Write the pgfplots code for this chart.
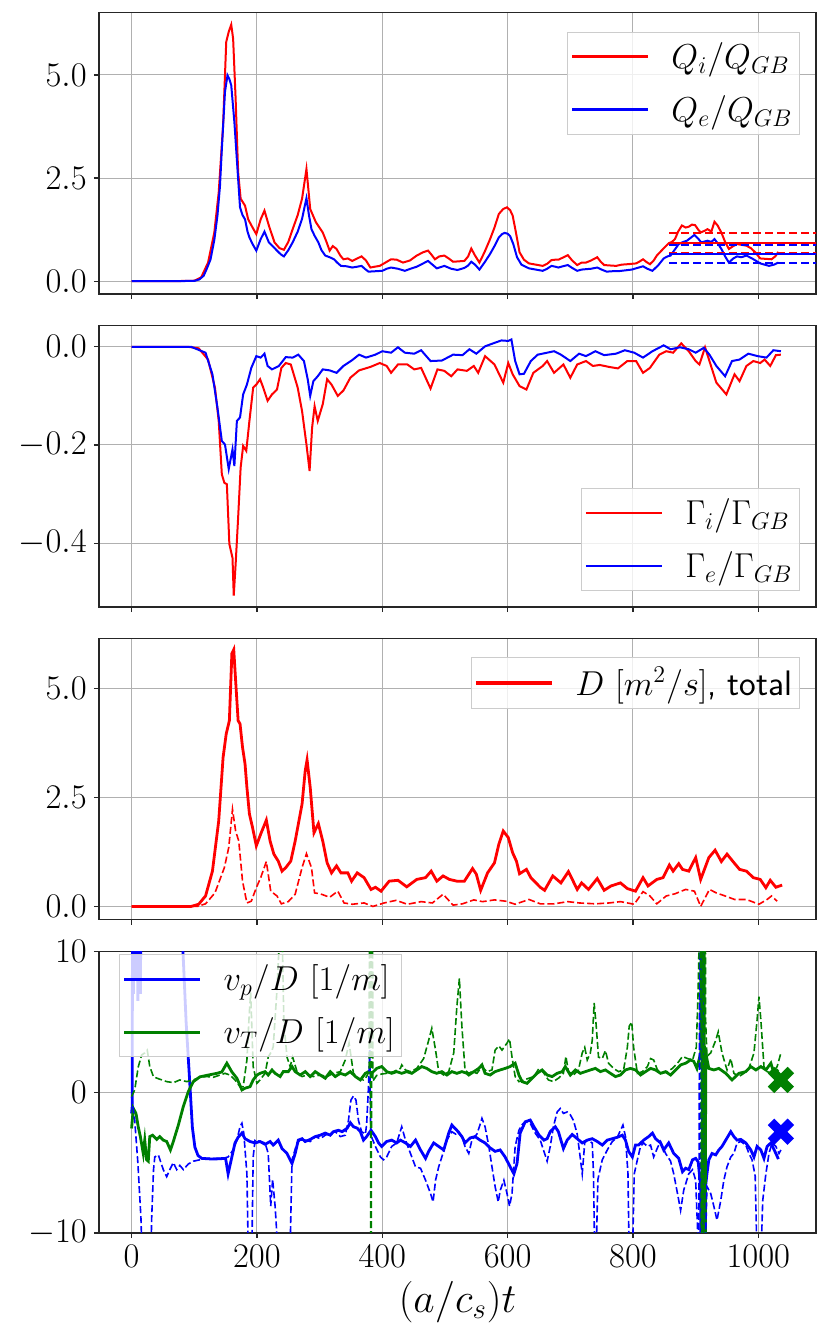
\documentclass[border=0pt]{standalone}
\usepackage{pgfplots}
\pgfplotsset{compat=1.18}
\definecolor{mgreen}{HTML}{008000}
\definecolor{gridc}{HTML}{B0B0B0}
\pgfplotsset{
  panel/.style={
    scale only axis, width=358.5pt, height=140.6pt,
    xmin=-52, xmax=1092,
    xtick={0,200,400,600,800,1000},
    xticklabel style={/pgf/number format/1000 sep={}},
    grid=major, major grid style={gridc, line width=0.5pt},
    tick pos=left, tick align=outside, major tick length=2.6pt,
    tick style={black!85, line width=0.6pt},
    axis line style={black!85, line width=0.6pt},
    tick label style={font=\fontsize{16}{19}\selectfont},
    legend cell align=left,
    legend image code/.code={\draw[#1, line width=\pgfkeysvalueof{/pgfplots/leglw}] (0pt,0pt) -- (38pt,0pt);},
    legend style={draw=black!20, line width=0.5pt, fill=white, fill opacity=0.8, text opacity=1, draw opacity=1,
      font=\fontsize{17.7}{21}\selectfont, inner xsep=1.5pt, inner ysep=3pt, row sep=8pt,
      /tikz/every odd column/.append style={column sep=9pt}},
  },
  leglw/.initial=1.3pt,
  onedec/.style={yticklabel style={/pgf/number format/.cd, fixed, fixed zerofill, precision=1}},
}
\begin{document}
\begin{tikzpicture}
% ---------------- Panel 1 ----------------
\begin{axis}[panel, onedec, at={(49.5pt,-6.35pt)}, anchor=north west,
  ymin=-0.31, ymax=6.51, ytick={0,2.5,5}, xticklabels={},
  legend style={at={(1,1)}, anchor=north east, xshift=-8pt, yshift=-9.5pt}]
\addplot[red, line width=1pt] coordinates {
(0,0) (60,0) (90,0.005) (100,0.01) (111,0.09) (122,0.45) (132,1.18) (139,2.15) (146,3.78) (151,5.8) (155,6.05) (159,6.22) (162,5.88) (166,4.42) (170,2.64) (174,2.0) (181,1.83) (186,1.5) (193,1.3) (199,1.14) (206,1.5) (212,1.71) (219,1.35) (228,0.94) (236,0.8) (243,0.76) (250,0.95) (257,1.26) (265,1.6) (272,2.0) (279,2.72) (285,1.75) (294,1.43) (305,1.18) (311,0.95) (316,0.74) (321,0.85) (327,0.78) (333,0.62) (338,0.53) (345,0.55) (352,0.49) (360,0.55) (367,0.6) (374,0.5) (381,0.33) (388,0.35) (396,0.37) (405,0.45) (414,0.53) (423,0.52) (433,0.45) (444,0.5) (455,0.62) (465,0.7) (473,0.74) (478,0.65) (484,0.53) (491,0.6) (499,0.62) (506,0.55) (513,0.47) (522,0.48) (531,0.49) (537,0.6) (542,0.79) (548,0.62) (555,0.45) (563,0.7) (572,1.02) (579,1.3) (586,1.63) (593,1.75) (599,1.79) (604,1.72) (608,1.59) (613,1.2) (619,0.7) (626,0.52) (634,0.43) (645,0.4) (656,0.37) (663,0.42) (670,0.51) (676,0.52) (681,0.52) (688,0.57) (696,0.63) (703,0.5) (711,0.39) (718,0.45) (725,0.45) (733,0.5) (743,0.58) (748,0.48) (754,0.39) (763,0.38) (773,0.37) (782,0.4) (791,0.41) (798,0.42) (805,0.43) (811,0.48) (816,0.53) (821,0.47) (827,0.41) (833,0.5) (838,0.62) (848,0.78) (857,0.92) (862,0.95) (867,1.02) (872,1.2) (878,1.35) (884,1.3) (889,1.32) (894,1.37) (899,1.36) (904,1.25) (908,1.18) (914,1.22) (919,1.26) (925,1.2) (930,1.44) (935,1.35) (941,1.18) (947,0.95) (953,0.78) (960,0.85) (966,0.9) (973,0.88) (981,0.86) (988,0.8) (995,0.7) (1003,0.55) (1012,0.54) (1021,0.53) (1027,0.6) (1032,0.71)
};
\addlegendentry{$Q_i/Q_{GB}$}
\addplot[blue, line width=1pt] coordinates {
(0,0) (60,0) (100,0.005) (108,0.04) (115,0.13) (120,0.3) (126,0.53) (132,1.0) (137,1.59) (141,2.3) (144,3.2) (149,4.59) (153,4.99) (156,4.9) (159,4.75) (164,3.86) (170,2.48) (173,1.79) (177,1.6) (181,1.5) (185,1.2) (188,1.06) (193,0.9) (199,0.74) (206,1.02) (212,1.2) (219,0.94) (225,0.85) (232,0.74) (238,0.65) (243,0.6) (250,0.75) (257,0.94) (265,1.2) (272,1.51) (276,1.8) (279,2.01) (283,1.6) (287,1.26) (292,1.1) (298,0.94) (303,0.75) (309,0.62) (316,0.58) (323,0.53) (328,0.45) (334,0.37) (343,0.36) (352,0.33) (360,0.35) (367,0.37) (372,0.3) (378,0.23) (389,0.24) (400,0.25) (407,0.3) (414,0.33) (425,0.3) (436,0.25) (445,0.3) (455,0.35) (464,0.42) (473,0.49) (480,0.4) (487,0.31) (493,0.34) (499,0.37) (510,0.3) (520,0.27) (531,0.32) (537,0.38) (542,0.47) (548,0.4) (555,0.28) (563,0.45) (572,0.66) (579,0.85) (586,1.06) (591,1.14) (595,1.17) (600,1.15) (604,1.09) (609,0.9) (615,0.58) (622,0.4) (634,0.31) (645,0.28) (656,0.25) (663,0.3) (670,0.37) (676,0.35) (681,0.33) (688,0.36) (696,0.39) (703,0.32) (711,0.25) (718,0.28) (725,0.29) (733,0.3) (743,0.33) (750,0.28) (758,0.23) (767,0.24) (776,0.24) (787,0.26) (798,0.28) (807,0.32) (816,0.36) (823,0.3) (831,0.25) (840,0.38) (849,0.55) (855,0.6) (860,0.62) (866,0.75) (873,0.9) (880,0.95) (886,0.98) (892,1.05) (898,1.12) (904,1.03) (909,0.94) (914,0.96) (919,0.98) (925,0.95) (930,1.02) (936,0.9) (941,0.78) (947,0.6) (953,0.45) (960,0.55) (966,0.6) (973,0.58) (981,0.62) (990,0.55) (1003,0.43) (1010,0.4) (1017,0.37) (1025,0.4) (1032,0.45)
};
\addlegendentry{$Q_e/Q_{GB}$}
\addplot[red, line width=1pt, forget plot] coordinates {(858,0.92) (1100,0.92)};
\addplot[red, line width=1pt, dash pattern=on 4pt off 2pt, forget plot] coordinates {(858,1.17) (1100,1.17)};
\addplot[red, line width=1pt, dash pattern=on 4pt off 2pt, forget plot] coordinates {(858,0.68) (1100,0.68)};
\addplot[blue, line width=1pt, forget plot] coordinates {(858,0.66) (1100,0.66)};
\addplot[blue, line width=1pt, dash pattern=on 4pt off 2pt, forget plot] coordinates {(858,0.87) (1100,0.87)};
\addplot[blue, line width=1pt, dash pattern=on 4pt off 2pt, forget plot] coordinates {(858,0.45) (1100,0.45)};
\end{axis}
% ---------------- Panel 2 ----------------
\begin{axis}[panel, onedec, at={(49.5pt,-162.85pt)}, anchor=north west,
  ymin=-0.530, ymax=0.043, ytick={-0.4,-0.2,0}, xticklabels={},
  legend style={at={(1,0)}, anchor=south east, xshift=-8pt, yshift=8pt}]
\addplot[red, line width=1pt] coordinates {
(0,0) (90,0) (107,-0.003) (122,-0.026) (133,-0.083) (139,-0.151) (144,-0.26) (148,-0.277) (152,-0.28) (156,-0.402) (161,-0.43) (163,-0.507) (166,-0.443) (170,-0.348) (174,-0.246) (178,-0.202) (183,-0.212) (188,-0.151) (194,-0.083) (199,-0.077) (205,-0.066) (210,-0.083) (217,-0.11) (224,-0.097) (232,-0.087) (239,-0.043) (246,-0.033) (254,-0.036) (265,-0.083) (272,-0.131) (279,-0.199) (284,-0.253) (288,-0.165) (292,-0.121) (297,-0.151) (305,-0.117) (312,-0.066) (319,-0.077) (329,-0.1) (338,-0.089) (349,-0.063) (363,-0.048) (381,-0.041) (396,-0.033) (407,-0.039) (414,-0.053) (425,-0.036) (440,-0.036) (451,-0.046) (462,-0.043) (477,-0.085) (488,-0.046) (499,-0.049) (510,-0.06) (520,-0.046) (535,-0.049) (546,-0.039) (553,-0.053) (564,-0.019) (579,-0.036) (593,-0.073) (601,-0.033) (608,-0.056) (619,-0.08) (630,-0.087) (641,-0.053) (656,-0.039) (663,-0.029) (674,-0.053) (689,-0.036) (700,-0.063) (711,-0.036) (725,-0.029) (736,-0.039) (747,-0.037) (762,-0.041) (776,-0.044) (791,-0.029) (805,-0.029) (816,-0.053) (827,-0.043) (842,-0.016) (853,-0.009) (864,-0.012) (877,0.007) (889,-0.009) (900,-0.029) (906,-0.036) (915,-0.001) (922,-0.029) (933,-0.073) (949,-0.097) (962,-0.056) (970,-0.07) (981,-0.039) (992,-0.029) (1003,-0.033) (1010,-0.026) (1019,-0.039) (1028,-0.017) (1036,-0.016)
};
\addlegendentry{$\Gamma_i/\Gamma_{GB}$}
\addplot[blue, line width=1pt] coordinates {
(0,0) (95,0) (118,-0.012) (129,-0.056) (137,-0.124) (144,-0.192) (149,-0.199) (155,-0.249) (161,-0.209) (164,-0.243) (168,-0.151) (173,-0.144) (178,-0.097) (184,-0.077) (191,-0.043) (199,-0.019) (206,-0.022) (212,-0.014) (217,-0.039) (224,-0.046) (235,-0.039) (246,-0.021) (257,-0.022) (266,-0.016) (275,-0.029) (281,-0.066) (285,-0.1) (290,-0.07) (297,-0.06) (305,-0.046) (316,-0.048) (327,-0.053) (338,-0.039) (351,-0.028) (363,-0.016) (374,-0.022) (389,-0.016) (400,-0.009) (414,-0.012) (425,-0.001) (436,-0.012) (451,-0.014) (462,-0.007) (477,-0.029) (495,-0.028) (513,-0.016) (528,-0.017) (539,-0.005) (550,-0.014) (564,0.001) (579,0.008) (590,0.013) (601,0.012) (606,0.015) (612,-0.029) (619,-0.056) (626,-0.055) (637,-0.029) (648,-0.016) (663,-0.012) (674,-0.009) (685,-0.016) (700,-0.029) (714,-0.014) (725,-0.019) (740,-0.009) (754,-0.017) (773,-0.014) (787,-0.007) (802,-0.012) (816,-0.022) (831,-0.009) (849,0.003) (860,-0.005) (875,-0.001) (889,-0.005) (900,-0.012) (913,-0.002) (922,-0.016) (933,-0.039) (947,-0.06) (958,-0.029) (970,-0.026) (984,-0.014) (999,-0.019) (1013,-0.022) (1024,-0.007) (1036,-0.009)
};
\addlegendentry{$\Gamma_e/\Gamma_{GB}$}
\end{axis}
% ---------------- Panel 3 ----------------
\begin{axis}[panel, onedec, leglw=1.6pt, at={(49.5pt,-319.15pt)}, anchor=north west,
  ymin=-0.30, ymax=6.15, ytick={0,2.5,5}, xticklabels={},
  legend style={at={(1,1)}, anchor=north east, xshift=-8pt, yshift=-9.3pt}]
\addplot[red, line width=1.4pt] coordinates {
(0,0) (95,0) (107,0.05) (118,0.24) (129,0.81) (139,1.96) (146,3.42) (151,3.96) (156,4.26) (160,5.8) (163,5.89) (166,5.18) (170,4.26) (173,4.19) (177,3.65) (181,3.27) (184,2.73) (188,2.12) (193,1.81) (199,1.39) (206,1.66) (215,1.98) (221,1.5) (227,1.2) (234,1.04) (240,0.81) (246,0.89) (254,1.04) (261,1.5) (272,2.35) (277,3.11) (280,3.36) (285,2.73) (291,1.69) (298,1.9) (305,1.5) (312,1.0) (319,0.77) (327,0.93) (334,0.77) (345,0.77) (351,0.58) (360,0.77) (371,0.66) (382,0.39) (389,0.44) (398,0.35) (411,0.58) (425,0.6) (439,0.45) (455,0.62) (469,0.66) (478,0.81) (487,0.58) (497,0.7) (507,0.62) (519,0.58) (531,0.58) (544,0.87) (550,0.74) (557,0.37) (568,0.77) (579,1.0) (586,1.43) (593,1.73) (601,1.58) (608,1.23) (614,1.04) (619,0.75) (630,0.85) (637,0.66) (652,0.44) (659,0.37) (672,0.7) (685,0.54) (697,0.8) (711,0.39) (718,0.54) (729,0.39) (743,0.64) (754,0.37) (765,0.47) (780,0.54) (791,0.41) (804,0.35) (816,0.66) (824,0.47) (838,0.62) (848,0.66) (858,0.95) (864,0.81) (873,0.98) (879,0.85) (889,0.81) (900,1.12) (908,0.62) (921,1.12) (931,1.29) (941,1.03) (950,1.2) (959,1.04) (970,0.85) (981,0.81) (992,0.66) (1003,0.62) (1012,0.43) (1019,0.6) (1028,0.44) (1038,0.49)
};
\addlegendentry{$D$ $[m^2/s]$\textsf{, total}}
\addplot[red, line width=0.8pt, dash pattern=on 3.5pt off 1.5pt, forget plot] coordinates {
(0,0) (105,0) (118,0.06) (133,0.31) (148,0.89) (155,1.35) (161,2.23) (166,1.73) (171,1.5) (177,0.58) (184,0.08) (191,0.12) (199,0.43) (206,0.66) (215,1.03) (222,0.35) (232,0.24) (239,0.06) (250,0.11) (261,0.28) (272,0.89) (279,1.21) (287,0.89) (292,0.31) (301,0.29) (316,0.21) (329,0.35) (339,0.08) (352,0.05) (371,0.08) (385,0.0) (403,0.08) (422,0.14) (440,0.05) (462,0.11) (480,0.08) (497,0.28) (513,0.03) (528,0.06) (546,0.15) (560,0.11) (579,0.15) (597,0.12) (612,0.05) (634,0.16) (652,0.06) (674,0.06) (696,0.11) (714,0.08) (740,0.06) (762,0.08) (780,0.11) (802,0.05) (816,0.34) (827,0.24) (838,0.06) (853,0.24) (867,0.29) (884,0.39) (898,0.35) (908,0.0) (922,0.39) (933,0.31) (947,0.24) (962,0.16) (981,0.16) (1001,0.05) (1014,0.16) (1021,0.24) (1030,0.12)
};
\end{axis}
% ---------------- Panel 4 ----------------
\begin{axis}[panel, leglw=1.6pt, at={(49.5pt,-475.85pt)}, anchor=north west,
  ymin=-10, ymax=10, ytick={-10,0,10},
  xlabel={$(a/c_s)t$}, xlabel style={font=\fontsize{22}{26}\selectfont},
  legend style={at={(0,1)}, anchor=north west, xshift=10pt, yshift=-1.3pt, font=\fontsize{18.4}{22}\selectfont}]
\addplot[blue, line width=1.4pt] coordinates {
(0,-1.5) (1,-1.0) (1.5,15) (3,7) (4.5,15) (6,8) (8,15) (10,6.5) (12,15) (14,7) (16,20) (20,25) (40,30) (70,30) (80,15) (82,10) (87,5) (92,1.3) (97,-2.5) (101,-3.9) (106,-4.5) (112,-4.7) (130,-4.75) (150,-4.7) (154,-5.8) (160,-4.6) (165,-3.6) (170,-3.2) (176,-2.9) (181,-3.3) (189,-3.5) (197,-3.6) (205,-3.5) (213,-3.7) (221,-3.5) (226,-3.75) (234,-3.4) (240,-4.0) (248,-4.35) (256,-5.06) (261,-4.35) (266,-3.4) (272,-3.3) (277,-3.5) (285,-3.35) (293,-3.15) (301,-3.05) (309,-2.9) (317,-3.05) (322,-2.8) (330,-2.7) (336,-2.8) (344,-2.55) (349,-2.16) (354,-2.45) (360,-2.55) (365,-2.8) (370,-3.4) (375,-3.15) (382,-2.7) (389,-3.15) (394,-3.6) (399,-3.85) (407,-3.5) (415,-3.4) (423,-3.6) (429,-3.4) (437,-3.6) (445,-3.85) (453,-3.4) (461,-4.1) (469,-4.7) (474,-4.2) (482,-3.6) (490,-3.85) (498,-4.1) (506,-2.9) (511,-2.33) (519,-2.7) (527,-3.15) (532,-3.6) (540,-3.25) (548,-3.15) (556,-3.4) (564,-3.6) (572,-3.95) (580,-4.2) (588,-4.1) (596,-4.6) (604,-5.3) (610,-5.8) (615,-5.06) (620,-2.9) (628,-2.1) (636,-1.97) (642,-2.45) (650,-3.04) (658,-3.4) (663,-3.3) (668,-2.8) (676,-2.45) (681,-2.8) (689,-4.0) (695,-3.4) (703,-3.0) (711,-3.3) (719,-3.6) (727,-3.4) (735,-3.3) (743,-3.5) (751,-3.75) (759,-3.4) (767,-3.3) (775,-3.2) (783,-3.05) (788,-3.4) (793,-4.2) (799,-4.6) (804,-3.75) (809,-3.75) (817,-3.4) (825,-3.15) (831,-2.9) (836,-3.3) (844,-3.6) (849,-4.1) (857,-3.6) (865,-4.35) (873,-4.7) (879,-5.65) (884,-5.4) (889,-5.5) (895,-4.8) (900,-4.7) (904,-4.95) (908,-6.7) (910,-30) (911.5,-8) (913,-25) (915,-7) (918,-5.8) (921,-4.8) (926,-4.35) (932,-4.45) (937,-4.1) (942,-3.85) (948,-3.4) (956,-2.8) (961,-3.15) (966,-3.4) (972,-3.35) (980,-3.6) (988,-4.1) (993,-4.6) (998,-3.85) (1004,-4.1) (1009,-4.7) (1014,-3.85) (1020,-3.6) (1028,-4.35) (1032,-4.75)
};
\addlegendentry{$v_p/D$ $[1/m]$}
\addplot[mgreen, line width=1.4pt] coordinates {
(0,-2.57) (2.7,-1.14) (7,-1.5) (10.6,-2.45) (14,-3.15) (18.6,-4.35) (21,-3.4) (24,-4.8) (26.6,-4.9) (29,-3.15) (33.5,-3.05) (40,-3.35) (45,-3.15) (50.6,-3.4) (56,-3.5) (62,-4.1) (66.6,-3.5) (74.6,-2.33) (82.6,-1.0) (90.5,0.05) (98.5,0.76) (109,1.1) (122.5,1.23) (136,1.35) (144,1.45) (152,2.07) (160,1.45) (168,1.0) (176,0.17) (181,0.29) (189,0.4) (194,0.88) (200,1.23) (205,1.35) (213,1.47) (218,1.23) (224,1.59) (229,1.35) (237,1.12) (242,1.47) (250,1.47) (256,1.83) (261,1.47) (269,1.23) (277,1.47) (285,1.12) (293,1.47) (301,1.23) (309,1.0) (317,1.47) (325,1.12) (333,1.35) (341,1.23) (349,1.47) (357,1.12) (365,0.88) (373,1.35) (378,1.47) (383,1.35) (391,1.7) (399,1.83) (407,1.47) (415,1.35) (423,1.47) (431,1.35) (439,1.47) (447,1.35) (455,1.59) (463,1.83) (471,1.7) (479,1.47) (487,1.35) (495,1.47) (503,1.23) (511,1.47) (519,1.35) (527,1.47) (535,1.35) (538,1.23) (546,1.47) (554,1.7) (559,1.95) (564,1.35) (572,1.23) (580,1.47) (588,1.59) (596,1.7) (604,1.83) (612,2.07) (618,1.23) (623,0.76) (631,0.64) (639,1.0) (647,1.35) (655,1.59) (663,1.23) (671,1.12) (679,1.35) (687,1.47) (692,1.83) (700,1.23) (708,1.59) (716,1.35) (724,1.47) (732,1.59) (740,1.7) (748,1.47) (756,1.59) (764,1.35) (772,1.12) (780,1.23) (788,1.59) (796,1.7) (804,1.59) (812,1.23) (820,1.47) (828,1.7) (836,1.59) (844,1.35) (852,1.47) (860,1.23) (868,1.59) (876,1.95) (884,2.07) (892,2.3) (897,2.2) (902,1.7) (908,2.8) (910,40) (911.5,-40) (913,40) (914.5,-40) (916,2.8) (921,1.7) (929,1.59) (937,1.7) (948,1.35) (958,0.88) (969,1.35) (980,1.47) (988,1.83) (996,1.59) (1004,1.83) (1012,1.59) (1020,2.07) (1025,1.35) (1032,1.6)
};
\addlegendentry{$v_T/D$ $[1/m]$}
\addplot[blue, line width=0.8pt, dash pattern=on 3.5pt off 1.5pt, forget plot] coordinates {
(0,-0.3) (5,-2) (10,-5) (15,-9) (18,-14) (25,-30) (30,-14) (32,-9) (35,-5.5) (37,-4.6) (42.6,-4.45) (50.6,-5.5) (56,-6.0) (61,-5.5) (66.6,-5.0) (72,-5.5) (77,-5.2) (82.6,-5.5) (90.5,-5.1) (98.5,-4.9) (109,-4.8) (120,-4.7) (133,-4.7) (146.5,-4.7) (154,-4.6) (162,-4.1) (168,-3.4) (173,-2.45) (176,-2.2) (179,-2.9) (184,-5.8) (186,-11) (189,-25) (192,-11) (194,-4.6) (197,-3.4) (205,-3.5) (213,-3.6) (218,-4.35) (222,-8.1) (225,-6.2) (229,-8.1) (233,-11) (240,-30) (250,-30) (253,-11) (256,-4.8) (264,-3.6) (269,-3.4) (277,-3.4) (285,-3.5) (293,-3.15) (301,-3.3) (309,-3.05) (317,-2.9) (325,-2.8) (333,-3.15) (341,-3.05) (346,-2.0) (350,-0.55) (354,-0.26) (358,-0.55) (362,-2.0) (367,-2.8) (373,-2.97) (375,-2.3) (378,0.4) (380,3) (381.5,-3) (384,-3.3) (389,-3.85) (397,-4.6) (402,-4.8) (407,-4.6) (415,-3.85) (423,-3.6) (431,-2.45) (437,-3.4) (445,-4.35) (453,-5.3) (461,-5.4) (469,-6.25) (477,-7.2) (481,-7.8) (485,-6.25) (490,-5.3) (495,-4.6) (503,-3.4) (511,-2.8) (517,-2.97) (522,-2.8) (527,-3.15) (532,-3.85) (538,-4.35) (543,-3.4) (551,-2.97) (556,-2.3) (559,-1.85) (564,-2.45) (570,-3.85) (575,-5.3) (580,-6.7) (585,-7.8) (588,-7.0) (594,-6.25) (599,-7.2) (603,-8.1) (607,-7.2) (612,-3.85) (618,-2.7) (623,-2.3) (628,-2.1) (636,-2.2) (644,-2.9) (652,-3.4) (659,-4.35) (663,-4.9) (668,-3.85) (673,-2.45) (679,-1.4) (684,-1.15) (689,-1.5) (695,-1.4) (700,-1.6) (705,-2.0) (711,-2.97) (715,-4.35) (719,-5.8) (723,-3.6) (727,-3.4) (735,-3.6) (737,-5.8) (739,-12) (741,-12) (744,-6.2) (751,-4.8) (759,-4.1) (767,-3.5) (775,-3.2) (780,-2.7) (784,-2.33) (788,-3.15) (792,-5.8) (794,-12) (799,-12) (802,-5.8) (807,-4.8) (812,-3.85) (817,-3.6) (823,-3.85) (828,-3.75) (833,-4.6) (839,-3.95) (844,-3.5) (852,-4.35) (860,-4.9) (865,-5.8) (871,-7.2) (876,-8.4) (881,-6.95) (889,-5.8) (895,-5.5) (900,-6.25) (905,-12) (907,20) (909,-20) (911,20) (913,-20) (915,-12) (918,-6.7) (924,-7.2) (929,-8.1) (934,-9.1) (940,-7.7) (945,-6.25) (950,-5.3) (956,-4.6) (961,-4.35) (966,-3.6) (972,-3.5) (980,-3.75) (985,-4.35) (990,-4.8) (995,-5.96) (998,-12) (1004,-12) (1007,-7.7) (1012,-5.8) (1017,-4.35) (1022,-3.6) (1028,-3.85) (1033,-4.35) (1036,-4.1)
};
\addplot[mgreen, line width=0.8pt, dash pattern=on 3.5pt off 1.5pt, forget plot] coordinates {
(0,-0.3) (5,0.17) (10.6,1.8) (16,2.65) (21,2.8) (25,3.0) (29,1.83) (35,1.1) (45,0.93) (56,0.76) (67,0.69) (77,0.88) (88,0.76) (98.5,0.88) (109,1.07) (120,1.12) (130.5,1.07) (141,1.23) (149,1.35) (157,1.23) (165,0.88) (173,0.4) (178,0.4) (184,2.3) (187.5,5.4) (190,7.1) (194,1.83) (200,0.64) (205,0.88) (213,1.35) (218,2.5) (224,2.97) (226,3.25) (232,7.3) (237,12) (240,12) (243,4.9) (248,2.5) (253,1.83) (257,2.5) (264,1.47) (272,1.12) (280,1.23) (290,1.12) (301,1.23) (312,1.12) (322,1.35) (333,1.47) (341,2.3) (347,3.5) (354,1.35) (362,1.0) (370,0.88) (375,1.12) (379,1.5) (380.5,40) (382,-40) (383.5,40) (385,0.8) (391,1.2) (399,1.3) (407,1.35) (418,1.47) (429,1.7) (431,1.95) (437,1.59) (445,1.47) (455,1.7) (466,2.4) (474,3.7) (479,4.55) (485,3.0) (490,1.47) (498,1.23) (506,1.47) (514,2.8) (519,6.1) (523,8.1) (527,4.7) (532,1.59) (538,1.35) (543,1.47) (551,1.35) (559,1.83) (567,1.47) (575,1.59) (580,3.0) (586,3.3) (591,3.0) (599,3.5) (603,3.8) (607,2.5) (612,1.12) (618,0.76) (626,0.88) (634,1.0) (642,1.12) (650,1.7) (658,1.35) (665,0.88) (673,0.76) (681,1.0) (689,1.35) (693,2.55) (697,1.47) (705,1.23) (713,1.59) (719,2.8) (723,3.2) (727,2.3) (732,2.8) (735,3.7) (738,6.35) (741,4.9) (745,2.5) (751,2.4) (756,2.97) (761,2.07) (769,1.7) (777,1.47) (785,1.59) (791,3.2) (794,4.7) (798,5.0) (801,3.2) (807,1.35) (815,1.47) (823,1.83) (828,2.4) (833,2.3) (839,1.59) (847,1.35) (855,1.47) (863,1.7) (871,2.07) (879,2.55) (887,2.4) (895,2.3) (901,3.2) (904,7.3) (906,12) (908,30) (909.5,-30) (911,30) (912.5,-30) (914,30) (916,5) (918,2.55) (924,2.8) (932,3.7) (936,4.3) (942,2.8) (950,1.59) (956,2.4) (961,1.35) (969,1.12) (977,1.35) (985,1.7) (993,2.8) (998,5.15) (1001,6.8) (1004,5.15) (1009,1.83) (1014,1.47) (1022,1.35) (1030,1.83) (1036,2.8)
};
\addplot[only marks, mark=x, mark size=7pt, mgreen, line width=4.6pt, forget plot] coordinates {(1036,0.88)};
\addplot[only marks, mark=x, mark size=7pt, blue, line width=4.6pt, forget plot] coordinates {(1036,-2.8)};
\end{axis}
\pgfresetboundingbox
\path[use as bounding box] (0pt,0pt) rectangle (415pt,-665pt);
\end{tikzpicture}
\end{document}
